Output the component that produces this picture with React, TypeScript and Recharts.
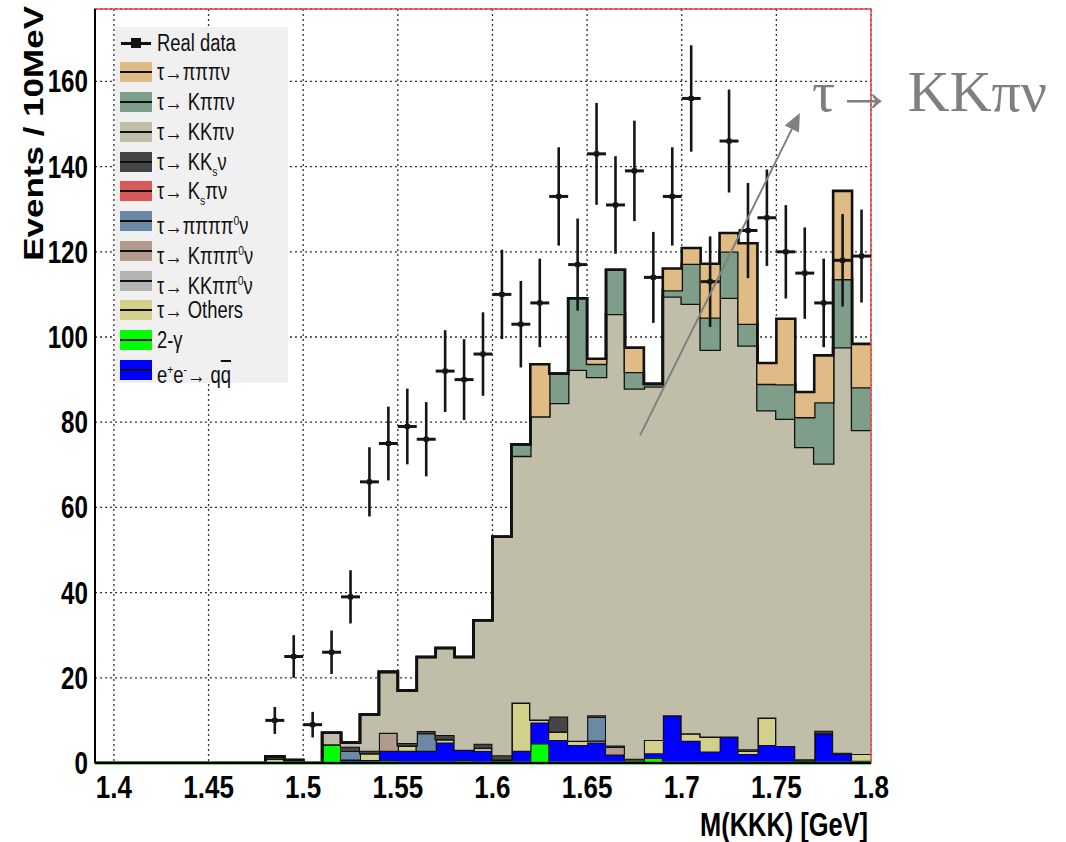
import React from 'react';
import {
  ComposedChart,
  Area,
  Scatter,
  ErrorBar,
  XAxis,
  YAxis,
  CartesianGrid,
  ReferenceLine,
  ReferenceArea,
} from 'recharts';

// ---- binning: 41 bins of 10 MeV from 1.39 to 1.80 GeV ----
const binStart = 1.39;
const binWidth = 0.01;

// ---- axis ticks ----
const xTicks = [1.4, 1.45, 1.5, 1.55, 1.6, 1.65, 1.7, 1.75, 1.8];
const yTicks = [0, 20, 40, 60, 80, 100, 120, 140, 160];
const xMinorTicks = Array.from({ length: 42 }, (_, i) => Number((binStart + i * binWidth).toFixed(2)));
const yMinorTicks = Array.from({ length: 45 }, (_, i) => i * 4);

// ---- data (events per bin) ----
const realData = [
  null, null, null, null, null, null, null, null, null, 10,
  25, 9, 26, 39, 66, 75, 79, 76, 92, 90,
  96, 110, 103, 108, 133, 117, 143, 131, 139, 114,
  133, 156, 113, 146, 125, 128, 120, 115, 108, 118,
  119,
];
const twoGamma = [
  0, 0, 0, 0, 0, 0, 0, 0, 0, 0,
  0, 0, 4.4, 0, 0, 0.6, 0, 0, 0, 0.6,
  0, 0, 0, 4.6, 0, 0, 0, 0, 0, 1.2,
  0, 0, 0, 0, 0, 0, 0, 0, 0, 0,
  0,
];
const qqbar = [
  0, 0, 0, 0, 0, 0, 0, 0, 0, 0,
  0, 0, 0, 0.8, 0.7, 2.3, 2.9, 2.9, 4.8, 2.5,
  2.8, 0.5, 2.9, 4.9, 5.4, 4.2, 4.8, 2.0, 0.3, 1.1,
  11.2, 5.2, 2.7, 6.2, 2.1, 4.2, 4.0, 0.3, 7.0, 2.1,
  0.5,
];
const tauOthers = [
  0, 0, 0, 0, 0, 0, 0, 0, 0, 1.0,
  0, 0, 0, 0, 1.6, 0, 1.2, 0, 0.8, 0,
  0, 0.3, 11.3, 0.7, 2.0, 1.0, 0.5, 0, 0, 3.1,
  0, 1.8, 3.5, 0, 0.7, 6.5, 0, 0.3, 0, 0,
  1.6,
];
const tauKKpipi0 = [
  0, 0, 0, 0, 0, 0, 0, 0, 0, 0,
  0, 0, 0, 0, 0, 0, 0, 0, 0, 0,
  0.8, 0, 0, 0, 0, 0, 0, 0, 0, 0,
  0, 0, 0, 0, 0, 0, 0, 0, 0, 0,
  0,
];
const tauKpipipi0 = [
  0, 0, 0, 0, 0, 0, 0, 0, 0, 0,
  0, 0, 0, 0, 0, 4.2, 0, 0, 0, 0,
  0, 0, 0, 0, 0, 0, 0, 1.8, 0, 0,
  0, 0, 0, 0, 0, 0, 0, 0, 0, 0,
  0,
];
const tauPipipipi0 = [
  0, 0, 0, 0, 0, 0, 0, 0, 0, 0,
  0, 0, 0, 2.0, 0, 0, 0, 4.1, 0, 0,
  0, 0, 0, 0, 0, 0, 5.5, 0, 0, 0,
  0, 0, 0, 0, 0, 0, 0, 0, 0, 0,
  0,
];
const tauKsPi = [
  0, 0, 0, 0, 0, 0, 0, 0, 0, 0,
  0, 0, 0, 0, 0, 0, 0, 0, 0, 0,
  0, 0, 0, 0, 0, 0, 0, 0, 0, 0,
  0, 0, 0, 0, 0, 0, 0, 0, 0, 0,
  0,
];
const tauKKs = [
  0, 0, 0, 0, 0, 0, 0, 0, 0, 0.5,
  0.7, 0, 0, 1.0, 0.6, 0, 0.6, 0.5, 1.0, 0,
  0.9, 1.0, 0, 0, 3.5, 0, 0.4, 0.3, 0.7, 0,
  0, 0, 0, 0, 0.4, 0, 0, 0.3, 0.6, 0.3,
  0,
];
const tauKKpi = [
  0, 0, 0, 0, 0, 0, 0, 0, 0, 0,
  0, 0, 2.7, 1.0, 8.5, 14.3, 12.3, 17.4, 20.4, 21.8,
  29.0, 51.3, 57.9, 71.2, 73.6, 87.1, 79.4, 101.3, 86.9, 83.0,
  98.3, 100.8, 90.8, 103.0, 94.8, 72.1, 76.8, 73.3, 62.7, 95.2,
  76.1,
];
const tauKpipi = [
  0, 0, 0, 0, 0, 0, 0, 0, 0, 0,
  0, 0, 0, 0, 0, 0, 0, 0, 0, 0,
  0, 0, 2.7, 0, 6.9, 16.8, 3.1, 10.4, 3.9, 0.6,
  1.5, 9.4, 7.6, 10.9, 5.1, 6.2, 8.1, 7.0, 14.4, 16.0,
  10.0,
];
const tauPipipi = [
  0, 0, 0, 0, 0, 0, 0, 0, 0, 0,
  0, 0, 0, 0, 0, 0, 0, 0, 0, 0,
  0, 0, 0, 12.2, 0, 0, 1.2, 0, 5.7, 0,
  5.1, 3.7, 12.6, 4.3, 18.9, 4.9, 15.4, 5.9, 11.0, 20.7,
  10.2,
];

// stack order: bottom first
const layers = [
  { key: 'gg', values: twoGamma, color: '#00ff00', sw: 2 },
  { key: 'qq', values: qqbar, color: '#0000ff', sw: 2 },
  { key: 'oth', values: tauOthers, color: '#d4cf8a', sw: 2 },
  { key: 'kkpp0', values: tauKKpipi0, color: '#b4b4b4', sw: 2 },
  { key: 'kppp0', values: tauKpipipi0, color: '#b29b8d', sw: 2 },
  { key: 'pppp0', values: tauPipipipi0, color: '#6b89a3', sw: 2 },
  { key: 'kspi', values: tauKsPi, color: '#d65a5a', sw: 2 },
  { key: 'kks', values: tauKKs, color: '#454545', sw: 2 },
  { key: 'kkpi', values: tauKKpi, color: '#c0bea8', sw: 2.6 },
  { key: 'kpp', values: tauKpipi, color: '#7e9e8a', sw: 2.6 },
  { key: 'ppp', values: tauPipipi, color: '#e1bb85', sw: 2.6 },
];

// rows at bin lower edges (+ closing edge) for step drawing
const nBins = realData.length;
const histRows = Array.from({ length: nBins + 1 }, (_, i) => {
  const j = Math.min(i, nBins - 1);
  const row: Record<string, number> = { x: Number((binStart + i * binWidth).toFixed(2)) };
  layers.forEach((l) => {
    row[l.key] = l.values[j];
  });
  return row;
});

const dataPoints = realData
  .map((v, i) =>
    v == null
      ? null
      : { x: Number((binStart + (i + 0.5) * binWidth).toFixed(3)), y: v, ey: Math.sqrt(v), ex: binWidth / 2 }
  )
  .filter((d) => d !== null);

const legendItems = [
  { label: <>Real data</>, color: null },
  { label: <>τ→πππν</>, color: '#e1bb85' },
  { label: <>τ→ Kππν</>, color: '#7e9e8a' },
  { label: <>τ→ KKπν</>, color: '#c0bea8' },
  { label: <>τ→ KK<sub style={{ fontSize: 13 }}>s</sub>ν</>, color: '#454545' },
  { label: <>τ→ K<sub style={{ fontSize: 13 }}>s</sub>πν</>, color: '#d65a5a' },
  { label: <>τ→ππππ<sup style={{ fontSize: 13 }}>0</sup>ν</>, color: '#6b89a3' },
  { label: <>τ→ Kπππ<sup style={{ fontSize: 13 }}>0</sup>ν</>, color: '#b29b8d' },
  { label: <>τ→ KKππ<sup style={{ fontSize: 13 }}>0</sup>ν</>, color: '#b4b4b4' },
  { label: <>τ→ Others</>, color: '#d4cf8a' },
  { label: <>2-γ</>, color: '#00ff00' },
  {
    label: (
      <>
        e<sup style={{ fontSize: 13 }}>+</sup>e<sup style={{ fontSize: 13 }}>-</sup>→ q
        <span style={{ textDecoration: 'overline' }}>q</span>
      </>
    ),
    color: '#0000ff',
  },
];

const FONT = '"Liberation Sans", Arial, Helvetica, sans-serif';

const XTick = (props: any) => {
  const { x, y, payload } = props;
  return (
    <g transform={`translate(${x},${y + 35}) scale(0.84,1)`}>
      <text x={0} y={0} textAnchor="middle" fontFamily={FONT} fontWeight="bold" fontSize={31} fill="#000">
        {String(payload.value)}
      </text>
    </g>
  );
};

const YTick = (props: any) => {
  const { x, y, payload } = props;
  return (
    <g transform={`translate(${x},${y + 11}) scale(0.78,1)`}>
      <text x={0} y={0} textAnchor="end" fontFamily={FONT} fontWeight="bold" fontSize={31} fill="#000">
        {String(payload.value)}
      </text>
    </g>
  );
};

const Arrow = (props: any) => {
  const { x1, y1, x2, y2 } = props;
  if ([x1, y1, x2, y2].some((v) => typeof v !== 'number' || isNaN(v))) return null;
  const ang = Math.atan2(y2 - y1, x2 - x1);
  const L = 18;
  const W = 8;
  const bx = x2 - L * Math.cos(ang);
  const by = y2 - L * Math.sin(ang);
  const p1x = bx + W * Math.sin(ang);
  const p1y = by - W * Math.cos(ang);
  const p2x = bx - W * Math.sin(ang);
  const p2y = by + W * Math.cos(ang);
  return (
    <g>
      <line x1={x1} y1={y1} x2={bx} y2={by} stroke="#808080" strokeWidth={2} />
      <polygon points={`${x2},${y2} ${p1x},${p1y} ${p2x},${p2y}`} fill="#808080" />
    </g>
  );
};

const DataMarker = (props: any) => {
  const { cx, cy } = props;
  if (typeof cx !== 'number' || typeof cy !== 'number') return null;
  return <rect x={cx - 2.5} y={cy - 2.5} width={5} height={5} fill="#151515" />;
};

const Legend = () => (
  <div
    style={{
      position: 'absolute',
      left: 115,
      top: 27,
      width: 173,
      height: 356,
      background: '#f0f0f0',
      fontFamily: FONT,
    }}
  >
    {legendItems.map((it, i) => {
      const cy = 15.7 + i * 29.75;
      return (
        <div key={i}>
          {it.color ? (
            <div
              style={{
                position: 'absolute',
                left: 5,
                top: cy - 10,
                width: 32,
                height: 20,
                background: it.color,
              }}
            >
              <div style={{ position: 'absolute', left: 0, right: 0, top: 9, height: 2, background: '#111' }} />
            </div>
          ) : (
            <div style={{ position: 'absolute', left: 5, top: cy - 10, width: 32, height: 20 }}>
              <div style={{ position: 'absolute', left: 1, right: 1, top: 9, height: 3, background: '#111' }} />
              <div style={{ position: 'absolute', left: 11, top: 5, width: 10, height: 10, background: '#111' }} />
            </div>
          )}
          <div
            style={{
              position: 'absolute',
              left: 42,
              top: cy - 13,
              fontSize: 23,
              lineHeight: '26px',
              whiteSpace: 'nowrap',
              color: '#111',
              transform: 'scaleX(0.8)',
              transformOrigin: 'left center',
            }}
          >
            {it.label}
          </div>
        </div>
      );
    })}
  </div>
);

export default function App() {
  return (
    <div style={{ position: 'absolute', left: 0, top: 0, width: 1066, height: 842, background: '#fff' }}>
      <ComposedChart width={1066} height={842} data={histRows} margin={{ top: 9, right: 195, bottom: 0, left: 0 }}>
        <CartesianGrid stroke="#333" strokeDasharray="2 3" strokeWidth={1.3} />
        <XAxis
          dataKey="x"
          type="number"
          domain={[1.39, 1.8]}
          ticks={xTicks}
          allowDataOverflow
          interval={0}
          height={79}
          tickLine={false}
          axisLine={false}
          tickSize={0}
          tickMargin={0}
          tick={(p: any) => <XTick {...p} />}
        />
        <YAxis
          type="number"
          domain={[0, 177]}
          ticks={yTicks}
          allowDataOverflow
          interval={0}
          width={95}
          tickLine={false}
          axisLine={false}
          tickSize={0}
          tickMargin={7}
          tick={(p: any) => <YTick {...p} />}
        />
        <XAxis
          xAxisId="xmaj"
          type="number"
          domain={[1.39, 1.8]}
          ticks={xTicks}
          allowDataOverflow
          interval={0}
          mirror
          tick={false}
          tickSize={22}
          axisLine={{ stroke: '#000', strokeWidth: 2 }}
          tickLine={{ stroke: '#000', strokeWidth: 1.6 }}
        />
        <XAxis
          xAxisId="xmin"
          type="number"
          domain={[1.39, 1.8]}
          ticks={xMinorTicks}
          allowDataOverflow
          interval={0}
          mirror
          tick={false}
          tickSize={11}
          axisLine={false}
          tickLine={{ stroke: '#000', strokeWidth: 1.6 }}
        />
        <YAxis
          yAxisId="ymaj"
          type="number"
          domain={[0, 177]}
          ticks={yTicks}
          allowDataOverflow
          interval={0}
          mirror
          tick={false}
          tickSize={20}
          axisLine={{ stroke: '#000', strokeWidth: 2 }}
          tickLine={{ stroke: '#000', strokeWidth: 1.6 }}
        />
        <YAxis
          yAxisId="ymin"
          type="number"
          domain={[0, 177]}
          ticks={yMinorTicks}
          allowDataOverflow
          interval={0}
          mirror
          tick={false}
          tickSize={10}
          axisLine={false}
          tickLine={{ stroke: '#000', strokeWidth: 1.6 }}
        />
        {layers.map((l) => (
          <Area
            key={l.key}
            dataKey={l.key}
            stackId="mc"
            type="stepAfter"
            fill={l.color}
            fillOpacity={1}
            stroke="#111"
            strokeWidth={l.sw}
            dot={false}
            activeDot={false}
            isAnimationActive={false}
          />
        ))}
        <ReferenceLine y={0} stroke="#159a15" strokeWidth={3} />
        <ReferenceArea x1={1.39} x2={1.8} y1={0} y2={177} fill="none" stroke="#e04848" strokeWidth={1.5} />
        <Scatter data={dataPoints as any[]} dataKey="y" shape={<DataMarker />} isAnimationActive={false}>
          <ErrorBar dataKey="ey" direction="y" width={0} stroke="#151515" strokeWidth={2.6} isAnimationActive={false} />
          <ErrorBar dataKey="ex" direction="x" width={0} stroke="#151515" strokeWidth={3} isAnimationActive={false} />
        </Scatter>
        <ReferenceLine
          segment={[
            { x: 1.678, y: 76.9 },
            { x: 1.7624, y: 152.6 },
          ]}
          ifOverflow="visible"
          shape={(p: any) => <Arrow {...p} />}
        />
      </ComposedChart>
      <Legend />
      <svg
        width={1066}
        height={842}
        style={{ position: 'absolute', left: 0, top: 0, pointerEvents: 'none' }}
      >
        <g transform="translate(43,6) scale(0.8,1) rotate(-90)">
          <text x={0} y={0} textAnchor="end" fontFamily={FONT} fontWeight="bold" fontSize={35} fill="#000">
            Events / 10MeV
          </text>
        </g>
        <g transform="translate(868,836) scale(0.77,1)">
          <text x={0} y={0} textAnchor="end" fontFamily={FONT} fontWeight="bold" fontSize={33} fill="#000">
            M(KKK) [GeV]
          </text>
        </g>
        <text x={812} y={111} fontFamily='"Liberation Serif", "DejaVu Serif", serif' fontSize={58} fill="#7f7f7f">
          τ→ KKπν
        </text>
      </svg>
    </div>
  );
}
